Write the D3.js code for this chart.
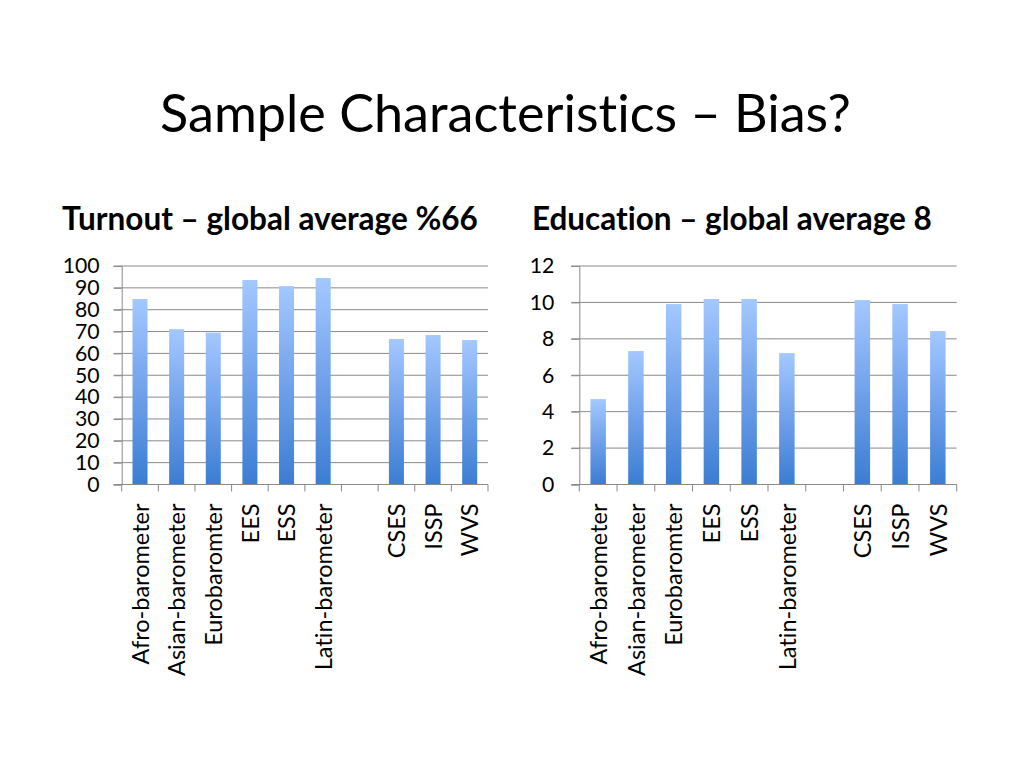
<!DOCTYPE html>
<html>
<head>
<meta charset="utf-8">
<script src="https://cdn.jsdelivr.net/npm/d3@7"></script>
<style>
  html, body { margin: 0; padding: 0; background: #fff; }
  svg { display: block; font-family: Lato, "Open Sans", sans-serif; font-variant-ligatures: none; }
</style>
</head>
<body>
<svg id="slide" width="1024" height="768"></svg>
<script>
// categories (blank slot between Latin-barometer and CSES)
const categories = ['Afro-barometer', 'Asian-barometer', 'Eurobaromter', 'EES', 'ESS', 'Latin-barometer', ' ', 'CSES', 'ISSP', 'WVS'];
const turnout   = [84.9, 71.1, 69.5, 93.6, 90.8, 94.5, null, 66.6, 68.4, 66.1];
const education = [4.69, 7.33, 9.91, 10.19, 10.19, 7.22, null, 10.13, 9.91, 8.43];
const turnoutTicks   = [0, 10, 20, 30, 40, 50, 60, 70, 80, 90, 100];
const educationTicks = [0, 2, 4, 6, 8, 10, 12];

const svg = d3.select('#slide');

// fit a text's font size to a measured width
function fit(sel, width) {
	let base = parseFloat(sel.attr('font-size'));
	let w = sel.node().getComputedTextLength();
	sel.attr('font-size', base * width / w);
	return base * width / w;
}

let defs = svg.append('defs');
let grad = defs.append('linearGradient')
	.attr('id', 'barGrad')
	.attr('x1', 0).attr('y1', 0).attr('x2', 0).attr('y2', 1);
grad.append('stop').attr('offset', '0%').attr('stop-color', '#a4c8ff');
grad.append('stop').attr('offset', '50%').attr('stop-color', '#70a1ea');
grad.append('stop').attr('offset', '100%').attr('stop-color', '#3b7dd3');

// title
let title = svg.append('text')
	.attr('x', 505.5).attr('y', 132)
	.attr('text-anchor', 'middle')
	.attr('font-size', 48)
	.text('Sample Characteristics – Bias?');
fit(title, 691);

// size for category labels, measured once
let probe = svg.append('text').attr('font-size', 20).text('Afro-barometer');
let catSize = fit(probe, 161);
probe.remove();
let probe2 = svg.append('text').attr('font-size', 20).text('100');
let tickSize = fit(probe2, 37);
probe2.remove();

function drawChart({values, ticks, max, left, right, top, bottom, heading, headingX, headingW, pad}) {
	let g = svg.append('g');

	let sub = g.append('text')
		.attr('x', headingX).attr('y', 230)
		.attr('font-weight', 'bold')
		.attr('font-size', 24)
		.text(heading);
	fit(sub, headingW);

	let x = d3.scaleBand()
		.domain(categories)
		.range([left, right])
		.paddingInner(0.59)
		.paddingOuter(0.295);

	let y = d3.scaleLinear()
		.domain([0, max])
		.range([bottom, top]);

	// gridlines
	g.selectAll('line.grid')
		.data(ticks)
		.enter()
		.append('line')
		.attr('class', 'grid')
		.attr('x1', left - 8).attr('x2', right)
		.attr('y1', d => y(d)).attr('y2', d => y(d))
		.attr('stroke', '#8a8a8a')
		.attr('stroke-width', 1);

	// y axis
	let yAxis = g.append('g')
		.attr('transform', `translate(${left},0)`)
		.call(d3.axisLeft(y).tickValues(ticks).tickSize(8).tickPadding(pad).tickFormat(d3.format('d')));
	yAxis.select('.domain').attr('stroke', '#8a8a8a');
	yAxis.selectAll('.tick line').attr('stroke', '#8a8a8a');
	yAxis.selectAll('.tick text')
		.attr('font-size', tickSize)
		.attr('font-family', 'Lato, "Open Sans", sans-serif')
		.attr('fill', '#000');

	// bars
	g.selectAll('rect.bar')
		.data(categories.map((c, i) => ({c, v: values[i]})).filter(d => d.v != null))
		.enter()
		.append('rect')
		.attr('class', 'bar')
		.attr('x', d => x(d.c))
		.attr('width', x.bandwidth())
		.attr('y', d => y(d.v))
		.attr('height', d => y(0) - y(d.v))
		.attr('fill', 'url(#barGrad)');

	// x axis line and boundary ticks
	g.append('line')
		.attr('x1', left).attr('x2', right)
		.attr('y1', bottom).attr('y2', bottom)
		.attr('stroke', '#8a8a8a');
	let step = x.step();
	g.selectAll('line.xtick')
		.data(d3.range(categories.length + 1))
		.enter()
		.append('line')
		.attr('class', 'xtick')
		.attr('x1', i => left + i * step).attr('x2', i => left + i * step)
		.attr('y1', bottom).attr('y2', bottom + 7)
		.attr('stroke', '#8a8a8a');

	// category labels
	g.selectAll('text.cat')
		.data(categories)
		.enter()
		.append('text')
		.attr('class', 'cat')
		.attr('text-anchor', 'end')
		.attr('font-size', catSize)
		.attr('transform', d => `translate(${x(d) + x.bandwidth() / 2 + 0.5},${bottom + 19}) rotate(-90)`)
		.attr('dy', '0.35em')
		.text(d => d);
}

drawChart({
	values: turnout, ticks: turnoutTicks, max: 100,
	left: 121.7, right: 488, top: 266, bottom: 484.5,
	heading: 'Turnout – global average %66', headingX: 62, headingW: 416, pad: 14
});

drawChart({
	values: education, ticks: educationTicks, max: 12,
	left: 579.3, right: 956.7, top: 266, bottom: 484.5,
	heading: 'Education – global average 8', headingX: 532, headingW: 400, pad: 17
});
</script>
</body>
</html>
